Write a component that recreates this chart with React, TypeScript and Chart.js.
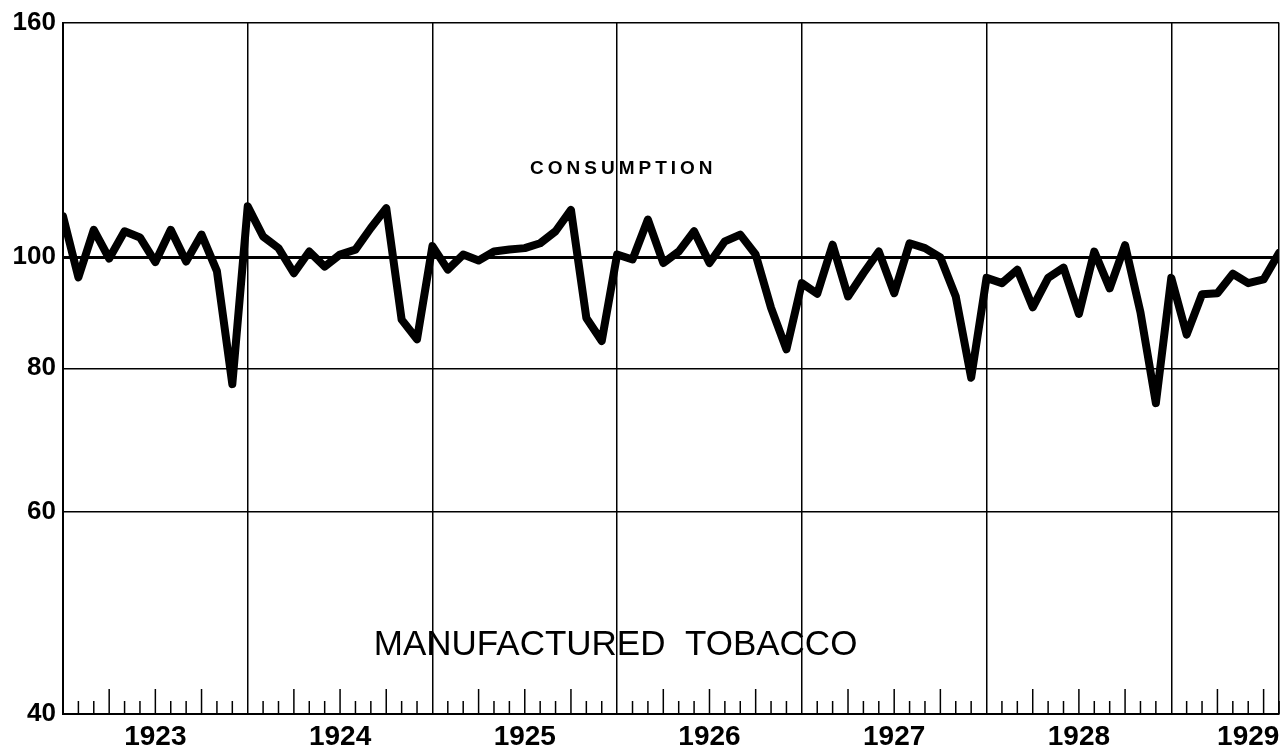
import React, { useEffect, useRef } from "react";
import { Chart, registerables } from "chart.js";

Chart.register(...registerables);

// Monthly index of manufactured tobacco consumption, Jan 1923 – Aug 1929
const consumption: number[] = [
  108.5, 96, 105.6, 99.7, 105.3, 104, 99, 105.6, 99.1, 104.6, 97.2, 77.5,
  110.7, 104.2, 101.8, 96.8, 101.1, 98.1, 100.5, 101.5, 106, 110.3, 88.2, 84.8,
  102.2, 97.5, 100.5, 99.3, 101.1, 101.5, 101.8, 102.8, 105.3, 109.9, 88.5, 84.5,
  100.5, 99.5, 107.8, 98.8, 101.1, 105.3, 98.8, 103.2, 104.6, 100.5, 90.3, 83.1,
  94.9, 92.9, 102.5, 92.4, 96.8, 101.1, 93, 102.8, 101.8, 99.9, 92.4, 78.5,
  95.9, 94.9, 97.5, 90.4, 95.9, 97.9, 89.2, 101.1, 93.9, 102.4, 89.5, 74.6,
  95.9, 85.6, 92.8, 93, 96.7, 94.9, 95.6, 100.8,
];

const months: number[] = consumption.map((_, i) => i);

const yearLabels: string[] = ["1923", "1924", "1925", "1926", "1927", "1928", "1929"];
const yearLabelMonths: number[] = [6, 18, 30, 42, 54, 66, 77];
const yearBoundaries: number[] = [12, 24, 36, 48, 60, 72];

const yTickValues: number[] = [40, 60, 80, 100, 160];

const seriesLabel = "CONSUMPTION";
const chartTitle = "MANUFACTURED  TOBACCO";

const FONT = "'Liberation Sans', Arial, Helvetica, sans-serif";

const annotationPlugin = {
  id: "annotations",
  afterDraw(chart: any) {
    const { ctx, chartArea, scales } = chart;
    const x = scales.x;
    const y = scales.y;
    ctx.save();
    // monthly ticks rising from the bottom of the plot
    ctx.strokeStyle = "#000";
    ctx.lineWidth = 1.5;
    for (const m of months) {
      if (m === 0 || m % 12 === 0) continue;
      const px = x.getPixelForValue(m);
      const h = m % 3 === 0 ? 25 : 13;
      ctx.beginPath();
      ctx.moveTo(px, chartArea.bottom);
      ctx.lineTo(px, chartArea.bottom - h);
      ctx.stroke();
    }
    // texts
    ctx.fillStyle = "#000";
    ctx.textAlign = "center";
    ctx.textBaseline = "middle";
    ctx.font = `bold 19px ${FONT}`;
    try { (ctx as any).letterSpacing = "4px"; } catch (e) {}
    ctx.fillText(seriesLabel, x.getPixelForValue(36.4), y.getPixelForValue(119.4));
    try { (ctx as any).letterSpacing = "0px"; } catch (e) {}
    ctx.font = `35px ${FONT}`;
    ctx.fillText(chartTitle, x.getPixelForValue(35.9), y.getPixelForValue(45.9));
    ctx.restore();
  },
};

export default function App() {
  const canvasRef = useRef<HTMLCanvasElement | null>(null);

  useEffect(() => {
    const canvas = canvasRef.current;
    if (!canvas) return;
    const chart = new Chart(canvas, {
      type: "line",
      data: {
        datasets: [
          {
            label: seriesLabel,
            data: months.map((m, i) => ({ x: m, y: consumption[i] })),
            borderColor: "#000",
            borderWidth: 8,
            pointRadius: 0,
            tension: 0,
            borderJoinStyle: "round",
            borderCapStyle: "round",
            fill: false,
          },
        ],
      },
      options: {
        animation: false,
        responsive: false,
        layout: { padding: { top: 21, right: 3, left: 0, bottom: 0 } },
        plugins: {
          legend: { display: false },
          tooltip: { enabled: false },
          title: { display: false },
        },
        scales: {
          x: {
            type: "linear",
            min: 0,
            max: months[months.length - 1],
            afterBuildTicks: (scale: any) => {
              const vals = new Set<number>([...months, ...yearLabelMonths]);
              scale.ticks = Array.from(vals)
                .sort((a, b) => a - b)
                .map((v) => ({ value: v }));
            },
            afterFit: (scale: any) => {
              scale.height = 41;
              scale.paddingLeft = 0;
              scale.paddingRight = 0;
            },
            ticks: {
              autoSkip: false,
              maxRotation: 0,
              minRotation: 0,
              padding: 6,
              color: "#000",
              font: { family: FONT, size: 28, weight: "bold" },
              callback: (value: any) => {
                const idx = yearLabelMonths.indexOf(Number(value));
                return idx >= 0 ? yearLabels[idx] : "";
              },
            },
            grid: {
              drawTicks: false,
              color: (c: any) => {
                const v = c.tick ? c.tick.value : -1;
                return yearBoundaries.includes(v) || v === months[months.length - 1]
                  ? "#000"
                  : "rgba(0,0,0,0)";
              },
              lineWidth: 1.5,
            },
            border: { display: true, color: "#000", width: 2 },
          },
          y: {
            type: "logarithmic",
            min: 40,
            max: 160,
            afterBuildTicks: (scale: any) => {
              scale.ticks = yTickValues.map((v) => ({ value: v }));
            },
            afterFit: (scale: any) => {
              scale.width = 63;
            },
            ticks: {
              padding: 7,
              color: "#000",
              font: { family: FONT, size: 26, weight: "bold" },
              callback: (value: any) => String(value),
            },
            grid: {
              drawTicks: false,
              color: "#000",
              lineWidth: (c: any) => (c.tick && c.tick.value === 100 ? 3 : 1.5),
            },
            border: { display: true, color: "#000", width: 2 },
          },
        },
      },
      plugins: [annotationPlugin],
    } as any);
    return () => chart.destroy();
  }, []);

  return (
    <div style={{ position: "fixed", left: 0, top: 0, width: 1282, height: 755, background: "#fff" }}>
      <canvas ref={canvasRef} width={1282} height={755} style={{ display: "block" }} />
    </div>
  );
}
